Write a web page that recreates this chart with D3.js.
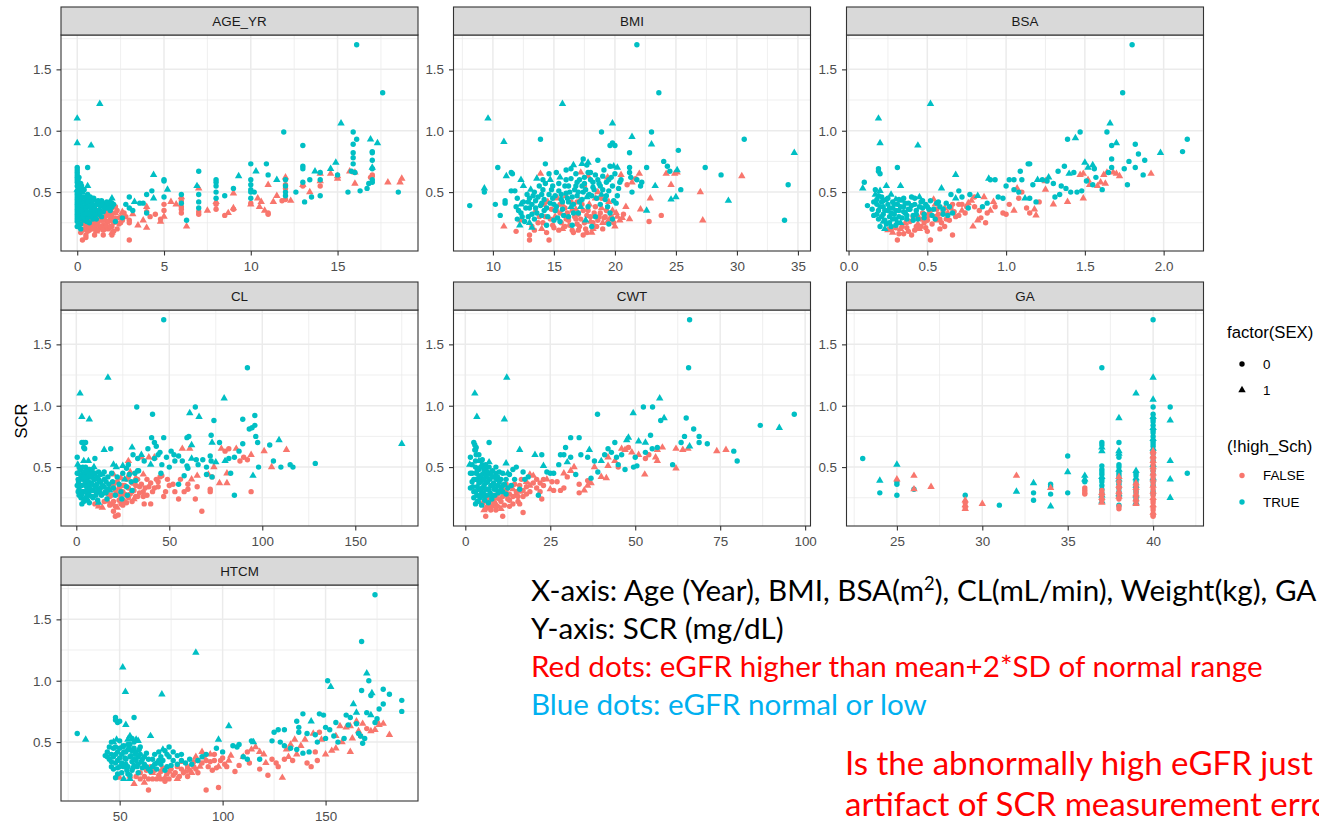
<!DOCTYPE html>
<html>
<head>
<meta charset="utf-8">
<script src="https://cdn.jsdelivr.net/npm/d3@7"></script>
<style>
  body { margin: 0; background: #ffffff; }
  svg { display: block; }
</style>
</head>
<body>
<svg id="chart" width="1319" height="825"></svg>
<script>
// Each point: [x value, SCR (mg/dL), SEX (0 = circle, 1 = triangle)]
// "True" arrays hold !high_Sch == TRUE (teal), "False" arrays hold FALSE (salmon).

const ageTrue = [[16.1,1.70,0],[17.6,1.31,0],[1.3,1.22,1],[0,1.10,1],[0,0.90,1],[0.8,0.88,1],[11.9,0.99,0],[15.2,1.06,1],[15.9,0.99,0],[16.1,0.93,0],[15.9,0.89,0],[15.9,0.82,0],[15.9,0.78,0],[15.9,0.73,0],[15.8,0.67,0],[16,0.66,0],[13,0.88,0],[16.9,0.93,1],[17.3,0.90,1],[17,0.83,0],[17,0.82,0],[17,0.76,0],[17,0.70,1],[17,0.69,0],[17,0.60,0],[17,0.58,0],[16.8,0.57,0],[16.7,0.53,0],[10.9,0.73,0],[10,0.73,0],[0.6,0.70,0],[7,0.67,0],[4.4,0.64,1],[9.3,0.63,1],[10.3,0.67,1],[11,0.64,0],[11.5,0.60,1],[12,0.60,0],[12,0.55,0],[12,0.50,0],[12,0.47,0],[13,0.71,0],[13,0.69,0],[13,0.58,0],[13.1,0.42,0],[13.4,0.60,0],[13.5,0.46,0],[12.6,0.50,0],[14,0.66,0],[14,0.60,0],[14,0.47,0],[13.7,0.67,1],[14.6,0.69,1],[14.9,0.74,1],[15,0.64,0],[15.6,0.50,0],[16.3,0.51,0],[18.5,0.50,0],[5,0.60,0],[5,0.59,0],[5.2,0.52,1],[5,0.46,0],[4.3,0.51,0],[4.4,0.45,1],[4,0.48,0],[4,0.33,0],[3.8,0.41,0],[6,0.48,0],[6,0.41,0],[6.3,0.27,0],[7,0.48,0],[7,0.42,0],[7,0.37,0],[6.9,0.55,1],[8,0.60,0],[8,0.58,0],[8,0.55,0],[8,0.50,0],[8,0.45,0],[8.5,0.47,0],[9,0.53,0],[10,0.60,0],[10,0.56,0],[10,0.52,0],[10,0.50,0],[10,0.45,0],[10.2,0.50,0],[3,0.46,0],[2.8,0.40,0],[3,0.37,0],[2.6,0.29,0],[2.2,0.26,0],[3.2,0.35,0],[3.3,0.42,1],[3.6,0.41,0],[2,0.45,1],[2.1,0.40,0],[0,0.70,0],[0,0.68,0],[0,0.66,0],[0,0.62,0],[0,0.58,0],[0.1,0.56,0],[0.2,0.57,0],[0.2,0.53,0],[0.1,0.50,0],[0,0.48,0],[0.1,0.45,0],[0,0.42,0],[0.2,0.40,0],[0,0.38,0],[0.1,0.35,0],[0,0.32,0],[0.2,0.30,0],[0.1,0.28,0],[0,0.26,0],[0.2,0.24,0],[0.3,0.50,1],[0.4,0.46,0],[0.3,0.42,0],[0.5,0.40,0],[0.4,0.36,1],[0.3,0.33,0],[0.5,0.30,0],[0.4,0.27,0],[0.6,0.55,1],[0.6,0.48,0],[0.7,0.44,0],[0.6,0.38,0],[0.7,0.34,0],[0.6,0.29,0],[0.8,0.42,1],[0.9,0.38,0],[0.8,0.33,0],[0.9,0.28,0],[1,0.43,1],[1,0.38,0],[1.1,0.35,0],[1,0.31,0],[1.2,0.40,0],[1.3,0.36,1],[1.2,0.32,0],[1.4,0.40,1],[1.5,0.38,0],[1.6,0.40,0],[1.7,0.37,0],[1.5,0.34,0],[1.8,0.40,1],[1.9,0.35,0],[2,0.38,0],[0,0.52,1],[0.1,0.62,0],[0.3,0.38,0],[0.5,0.34,0],[0.8,0.30,0],[1.4,0.30,0],[0.2,0.20,0],[0.7,0.25,0],[0,0.64,0],[0,0.60,0],[0,0.55,0],[0,0.50,0],[0,0.46,0],[0,0.44,0],[0,0.40,0],[0,0.36,0],[0,0.34,0],[0,0.30,0],[0,0.28,0],[0,0.22,0],[0.05,0.60,0],[0.1,0.41,0],[0.1,0.32,0],[0.15,0.47,0],[0.15,0.38,0],[0.2,0.45,0],[0.2,0.35,0],[0.25,0.28,0],[0.25,0.55,0],[0.3,0.46,0],[0.35,0.30,0],[0.4,0.52,0],[0.4,0.42,0],[0.45,0.32,0],[0.5,0.45,0],[0.5,0.37,0],[0.55,0.26,0],[0.6,0.42,0],[0.65,0.32,0],[0.7,0.38,0],[0.75,0.46,0],[0.8,0.36,0],[0.85,0.40,0],[0.9,0.33,1],[0.95,0.45,0],[1.0,0.35,0],[1.1,0.40,0],[1.1,0.28,0],[1.2,0.43,0],[1.3,0.39,0],[1.4,0.43,0],[1.5,0.41,1],[1.6,0.37,0],[1.7,0.42,0],[1.8,0.37,0],[1.9,0.42,0],[2.0,0.41,0],[1.3,0.33,0]];
const ageFalse = [[18.7,0.61,1],[18.6,0.58,1],[17.9,0.58,1],[17,0.64,0],[17,0.63,0],[16.9,0.62,0],[16,0.66,1],[16,0.57,1],[15.7,0.67,1],[14.6,0.65,1],[15,0.63,1],[15,0.61,1],[14,0.65,1],[14,0.59,1],[14,0.55,0],[13.4,0.50,1],[12,0.62,1],[12,0.56,0],[12,0.53,0],[12,0.44,0],[12.3,0.43,1],[11.8,0.43,0],[13,0.56,1],[13,0.55,0],[11,0.56,1],[11,0.33,0],[11,0.32,0],[10.8,0.35,1],[10.4,0.45,1],[10.6,0.42,1],[10.5,0.38,1],[11.5,0.47,1],[11.3,0.42,1],[10,0.40,1],[10,0.41,0],[9,0.49,1],[9,0.37,1],[9,0.36,0],[8.5,0.31,0],[8.7,0.33,1],[8,0.42,1],[8,0.40,0],[8,0.36,0],[7.5,0.35,1],[7,0.53,1],[7,0.34,0],[7,0.32,0],[6,0.46,1],[6,0.43,0],[6,0.38,0],[6,0.36,0],[6,0.33,0],[6.3,0.22,1],[5.7,0.40,1],[5.4,0.42,1],[5,0.40,0],[5,0.35,0],[5,0.30,1],[4.8,0.28,0],[4.5,0.32,0],[4.8,0.26,1],[4,0.38,1],[4,0.34,0],[4.2,0.30,0],[3.8,0.27,1],[3.5,0.23,1],[4,0.21,1],[3,0.27,0],[3,0.25,0],[3,0.11,0],[3.2,0.32,1],[2.8,0.30,0],[2.5,0.25,0],[2,0.37,0],[2,0.30,0],[2,0.22,0],[2,0.17,1],[2,0.15,0],[1.8,0.20,0],[0.3,0.11,0],[0.5,0.15,0],[0.2,0.17,0],[1,0.20,0],[1.5,0.23,0],[0.1,0.22,1],[0.4,0.20,0],[0.6,0.24,0],[0.8,0.22,0],[1.2,0.25,0],[1.4,0.27,0],[1.6,0.30,0],[1.7,0.26,0],[1.9,0.28,0],[1.1,0.18,1],[1.3,0.21,0],[0.9,0.26,0],[2.2,0.33,1],[2.4,0.29,0],[2.6,0.34,1],[1.6,0.20,0],[1.8,0.32,0],[1.2,0.28,0],[2.3,0.20,0],[1.0,0.24,0],[0.7,0.19,0],[0.2,0.25,0],[0.3,0.19,0],[0.4,0.24,1],[0.5,0.21,0],[0.6,0.18,0],[0.7,0.22,0],[0.8,0.27,0],[0.9,0.20,0],[1.0,0.28,0],[1.1,0.23,0],[1.2,0.19,0],[1.3,0.30,1],[1.4,0.22,0],[1.4,0.34,0],[1.5,0.27,0],[1.5,0.19,0],[1.6,0.34,0],[1.7,0.23,1],[1.7,0.31,0],[1.8,0.26,0],[1.9,0.22,0],[1.9,0.35,1],[2.0,0.27,0],[2.0,0.33,0],[2.1,0.25,0],[2.1,0.18,0],[2.2,0.29,0],[2.3,0.35,0],[2.4,0.24,0],[2.5,0.30,1],[2.6,0.27,0],[2.7,0.33,0],[0.5,0.13,0],[1.0,0.15,0],[1.5,0.15,0],[0.9,0.32,0],[1.2,0.35,0],[2.2,0.38,0]];

const bmiTrue = [[21.8,1.70,0],[23.6,1.31,0],[15.7,1.22,1],[9.6,1.10,1],[10.9,0.91,1],[13.9,0.93,0],[19.8,1.06,1],[18.9,0.99,0],[23,0.99,0],[21.4,0.95,1],[23,0.89,1],[19.8,0.90,0],[19.6,0.88,0],[20,0.88,0],[30.6,0.93,0],[25.2,0.84,0],[34.7,0.82,1],[21.2,0.82,0],[27.4,0.70,0],[28.7,0.64,0],[24,0.75,0],[24.3,0.71,0],[24.5,0.67,0],[22.6,0.70,0],[17.4,0.77,0],[17.8,0.74,1],[18.6,0.76,0],[17.7,0.72,0],[17.3,0.73,1],[14.3,0.73,0],[10.4,0.70,0],[11.5,0.66,0],[11.6,0.65,0],[11.1,0.63,1],[12.3,0.60,1],[16.6,0.72,1],[16.4,0.69,0],[19.6,0.71,0],[19.9,0.71,1],[20.2,0.70,1],[21.2,0.70,0],[21.2,0.66,0],[21.3,0.62,0],[25.4,0.52,0],[34.2,0.56,0],[29.3,0.43,1],[33.9,0.27,0],[8.1,0.39,0],[9.3,0.53,1],[9.3,0.50,0],[10.2,0.40,0],[10.6,0.31,0],[11,0.41,0],[11,0.43,0],[24.6,0.44,1],[25,0.46,1],[22.6,0.35,1],[21.4,0.50,0],[22.1,0.55,0],[22.2,0.58,0],[21.8,0.60,0],[23.3,0.55,1],[25.1,0.68,1],[11.5,0.51,0],[11.8,0.51,0],[12,0.45,0],[12.3,0.40,1],[12.1,0.35,0],[12.4,0.30,0],[12.6,0.26,0],[12.2,0.23,1],[12.8,0.48,0],[12.9,0.42,0],[13,0.37,0],[13.2,0.32,0],[13.1,0.52,1],[13.3,0.47,0],[13.5,0.43,0],[13.5,0.37,0],[13.4,0.28,0],[13.2,0.21,1],[13.8,0.55,0],[14,0.48,0],[14,0.41,0],[14.1,0.60,0],[14.2,0.35,0],[14.5,0.30,0],[14.4,0.23,0],[14.7,0.60,1],[14.8,0.52,0],[14.9,0.45,0],[15,0.40,0],[15.1,0.35,0],[15,0.27,0],[15.4,0.57,0],[15.5,0.62,1],[15.6,0.48,0],[15.7,0.42,0],[15.8,0.31,0],[15.5,0.26,0],[16,0.60,0],[16.2,0.55,0],[16.3,0.50,0],[16.1,0.45,0],[16.4,0.38,1],[16.2,0.30,0],[16.5,0.23,0],[16.8,0.65,0],[16.9,0.58,0],[16.7,0.52,0],[16.9,0.47,0],[17.1,0.42,0],[17,0.33,0],[17.3,0.55,0],[17.4,0.50,0],[17.5,0.62,0],[17.7,0.46,1],[17.8,0.38,0],[17.6,0.27,1],[18,0.66,0],[18.2,0.58,0],[18.3,0.52,0],[18.1,0.47,0],[18.4,0.30,0],[18.1,0.22,0],[18.6,0.60,0],[18.8,0.55,0],[18.9,0.48,1],[19,0.63,0],[19.3,0.58,0],[19.5,0.51,0],[19.2,0.44,0],[19.4,0.38,0],[19.6,0.33,0],[19.7,0.62,0],[19.9,0.43,0],[20.1,0.41,0],[20.3,0.53,0],[20.5,0.60,0],[19.8,0.28,0],[19.5,0.24,0],[14.6,0.65,0],[15.2,0.66,0],[13.6,0.61,1],[14.3,0.57,0],[11.9,0.38,0],[12.5,0.55,1],[16.0,0.68,0],[12.3,0.33,0],[12.5,0.42,0],[12.7,0.37,0],[12.9,0.30,0],[13.0,0.45,0],[13.2,0.40,0],[13.4,0.50,0],[13.6,0.33,0],[13.7,0.46,0],[13.9,0.39,0],[14.1,0.52,0],[14.2,0.44,0],[14.4,0.37,0],[14.6,0.48,0],[14.7,0.41,0],[14.9,0.55,0],[15.1,0.47,0],[15.2,0.38,0],[15.4,0.51,0],[15.6,0.44,0],[15.7,0.36,0],[15.9,0.55,0],[16.0,0.49,0],[16.2,0.42,0],[16.4,0.61,0],[16.5,0.46,0],[16.6,0.40,0],[16.8,0.55,0],[17.0,0.50,0],[17.1,0.60,0],[17.3,0.44,0],[17.5,0.57,0],[17.6,0.52,0],[17.8,0.66,0],[17.9,0.48,0],[18.0,0.60,0],[18.2,0.54,0],[18.4,0.64,0],[18.5,0.45,0],[18.7,0.57,0],[19.0,0.52,0],[19.1,0.68,0],[19.3,0.47,0],[19.5,0.60,0],[19.8,0.55,0],[20.0,0.65,0],[20.2,0.47,0],[20.4,0.58,0],[14.0,0.31,0],[15.3,0.29,0],[16.6,0.33,0],[12.0,0.28,0],[13.0,0.25,1],[17.2,0.38,1],[18.8,0.40,0]];
const bmiFalse = [[30.4,0.63,1],[27,0.50,1],[27.2,0.27,1],[22.8,0.26,0],[23.8,0.31,0],[24.2,0.65,1],[24.9,0.65,1],[25.1,0.66,1],[24.6,0.56,1],[22.9,0.45,1],[22.1,0.36,1],[20.5,0.64,1],[21.4,0.58,1],[21.7,0.61,0],[22,0.65,1],[21,0.56,0],[13.9,0.65,1],[17.2,0.66,1],[17.8,0.63,1],[10.9,0.22,1],[11.9,0.18,0],[13,0.15,0],[13,0.11,0],[14.6,0.11,0],[12.3,0.27,1],[13.5,0.35,1],[13.7,0.25,0],[14,0.20,1],[14.3,0.30,0],[14.5,0.42,1],[14.8,0.36,0],[14.9,0.23,0],[15.1,0.30,1],[15.3,0.45,1],[15.4,0.19,0],[15.6,0.25,0],[15.8,0.38,1],[15.9,0.22,0],[16.1,0.33,0],[16.2,0.27,0],[16.4,0.42,0],[16.5,0.19,0],[16.7,0.30,0],[16.8,0.36,1],[16.9,0.24,0],[17.1,0.43,1],[17.2,0.28,0],[17.4,0.15,0],[17.4,0.35,0],[17.6,0.20,0],[17.7,0.31,0],[17.9,0.40,1],[18,0.26,1],[18.1,0.17,1],[18.3,0.33,0],[18.4,0.45,1],[18.5,0.22,0],[18.7,0.30,0],[18.9,0.37,1],[19,0.25,1],[19.2,0.30,0],[19.5,0.42,1],[19.6,0.28,0],[19.8,0.35,1],[20,0.22,1],[20.2,0.30,1],[20.6,0.29,1],[20.9,0.38,1],[21.2,0.28,1],[16.0,0.47,1],[17.5,0.55,0],[18.6,0.50,1],[19.4,0.62,1],[14.2,0.40,0],[13.2,0.22,0],[15.5,0.33,0],[18.2,0.20,1],[17.0,0.19,0],[13.4,0.19,0],[13.8,0.30,0],[14.1,0.25,0],[14.4,0.17,0],[14.7,0.28,0],[15.0,0.21,0],[15.2,0.35,0],[15.5,0.40,0],[15.7,0.20,1],[16.0,0.28,0],[16.3,0.23,0],[16.5,0.35,0],[16.6,0.17,0],[16.8,0.28,0],[17.0,0.32,0],[17.1,0.22,0],[17.3,0.40,0],[17.5,0.25,0],[17.7,0.17,0],[17.8,0.35,0],[18.0,0.30,0],[18.2,0.25,0],[18.4,0.38,0],[18.6,0.27,0],[18.8,0.33,0],[19.0,0.20,0],[19.1,0.29,0],[19.3,0.35,0],[19.4,0.26,1],[19.7,0.30,0],[19.9,0.25,0],[20.1,0.33,1],[20.4,0.27,1],[20.7,0.32,0],[16.9,0.42,0],[18.9,0.45,0],[15.9,0.37,0]];

const bsaTrue = [[1.80,1.70,0],[1.74,1.31,0],[0.52,1.22,1],[0.19,1.10,1],[0.20,0.90,1],[0.44,0.88,1],[0.31,0.70,0],[0.19,0.69,0],[0.19,0.67,0],[0.20,0.65,0],[0.68,0.64,1],[0.33,0.55,1],[0.59,0.53,1],[0.10,0.58,0],[0.09,0.53,1],[0.12,0.39,0],[1.47,0.99,0],[1.39,0.93,0],[1.44,0.94,1],[1.64,0.99,0],[1.66,1.06,1],[1.67,0.88,0],[1.70,0.90,1],[1.82,0.89,0],[1.84,0.81,0],[1.88,0.76,0],[1.78,0.75,0],[1.67,0.77,0],[1.75,0.69,0],[1.82,0.70,0],[1.87,0.64,0],[1.77,0.56,0],[1.98,0.82,1],[2.12,0.83,0],[2.15,0.93,0],[1.37,0.71,0],[1.33,0.67,0],[1.43,0.66,0],[1.40,0.65,1],[1.50,0.74,1],[1.55,0.72,1],[1.52,0.70,1],[1.67,0.70,0],[1.65,0.66,0],[1.56,0.69,0],[1.57,0.62,0],[1.14,0.73,0],[1.15,0.73,0],[1.09,0.67,0],[1.05,0.60,0],[1.10,0.60,0],[1.02,0.60,0],[0.90,0.60,0],[0.93,0.60,0],[0.89,0.61,1],[1.17,0.56,0],[1.20,0.60,1],[1.23,0.60,0],[1.26,0.59,0],[1.30,0.57,0],[1.35,0.55,0],[1.38,0.53,0],[1.41,0.50,0],[1.45,0.50,0],[1.48,0.51,0],[1.34,0.48,0],[1.31,0.46,0],[1.08,0.50,0],[1.05,0.52,0],[1.00,0.55,0],[0.98,0.45,0],[0.95,0.46,0],[1.15,0.45,0],[1.19,0.42,0],[1.12,0.45,1],[0.88,0.41,0],[0.85,0.38,0],[0.82,0.47,1],[0.77,0.48,0],[0.72,0.46,0],[0.70,0.51,0],[0.65,0.48,0],[0.68,0.45,1],[0.76,0.37,0],[1.51,0.59,0],[1.55,0.56,0],[1.61,0.52,0],[1.27,0.62,1],[0.15,0.36,0],[0.16,0.31,0],[0.17,0.48,1],[0.18,0.44,0],[0.18,0.40,0],[0.19,0.35,0],[0.19,0.28,0],[0.20,0.22,0],[0.20,0.51,1],[0.21,0.46,0],[0.21,0.42,0],[0.22,0.38,0],[0.22,0.32,0],[0.23,0.27,0],[0.23,0.20,1],[0.24,0.55,1],[0.24,0.44,0],[0.25,0.40,0],[0.25,0.35,0],[0.26,0.30,0],[0.26,0.25,0],[0.27,0.48,1],[0.28,0.42,0],[0.28,0.37,0],[0.29,0.32,0],[0.30,0.28,0],[0.30,0.44,1],[0.31,0.40,0],[0.32,0.35,0],[0.32,0.30,0],[0.33,0.25,1],[0.34,0.43,1],[0.35,0.38,0],[0.36,0.33,0],[0.37,0.28,0],[0.38,0.41,0],[0.39,0.36,0],[0.40,0.46,0],[0.41,0.31,0],[0.42,0.40,0],[0.43,0.35,0],[0.44,0.28,0],[0.45,0.46,1],[0.46,0.42,0],[0.47,0.37,0],[0.48,0.32,0],[0.49,0.40,0],[0.51,0.36,0],[0.53,0.31,0],[0.55,0.28,0],[0.56,0.41,0],[0.58,0.38,0],[0.60,0.32,0],[0.62,0.41,0],[0.63,0.31,0],[0.66,0.33,0],[0.17,0.52,0],[0.35,0.45,0],[0.27,0.22,0],[0.16,0.42,0],[0.18,0.32,0],[0.19,0.47,0],[0.2,0.38,0],[0.21,0.30,0],[0.22,0.43,0],[0.23,0.35,0],[0.24,0.24,0],[0.25,0.45,0],[0.26,0.37,0],[0.27,0.33,0],[0.28,0.28,0],[0.29,0.40,0],[0.3,0.35,0],[0.31,0.25,0],[0.32,0.44,0],[0.33,0.38,0],[0.34,0.29,0],[0.35,0.34,0],[0.36,0.41,0],[0.37,0.31,0],[0.38,0.36,0],[0.4,0.39,0],[0.41,0.27,0],[0.42,0.45,0],[0.43,0.32,0],[0.45,0.38,0],[0.47,0.43,0],[0.48,0.29,0],[0.5,0.38,0],[0.52,0.43,0],[0.54,0.36,0],[0.57,0.42,0],[0.6,0.36,0],[0.64,0.38,0],[0.22,0.26,1],[0.3,0.23,0]];
const bsaFalse = [[1.92,0.65,1],[1.70,0.65,1],[1.68,0.66,1],[1.64,0.66,1],[1.72,0.63,1],[1.62,0.64,1],[1.60,0.58,1],[1.63,0.57,1],[1.58,0.55,1],[1.49,0.65,1],[1.47,0.64,1],[1.52,0.60,1],[1.53,0.56,1],[1.49,0.45,1],[1.39,0.42,1],[1.30,0.40,1],[1.25,0.59,1],[1.25,0.52,1],[1.21,0.42,0],[1.18,0.36,1],[1.13,0.37,0],[1.15,0.33,0],[1.19,0.31,1],[1.07,0.53,1],[1.10,0.50,0],[1.08,0.45,0],[1.02,0.40,0],[0.98,0.33,0],[1.00,0.32,0],[1.05,0.35,1],[0.93,0.38,0],[0.90,0.35,1],[0.88,0.33,0],[0.86,0.46,1],[0.92,0.42,1],[0.80,0.46,0],[0.78,0.43,1],[0.75,0.38,0],[0.72,0.35,1],[0.70,0.40,0],[0.68,0.30,0],[0.65,0.37,0],[0.82,0.27,1],[0.84,0.29,0],[0.79,0.22,1],[0.87,0.25,0],[0.66,0.15,0],[0.52,0.11,0],[0.31,0.11,0],[0.28,0.17,1],[0.33,0.20,1],[0.40,0.15,0],[0.45,0.20,1],[0.48,0.25,0],[0.50,0.30,0],[0.52,0.35,0],[0.55,0.40,1],[0.54,0.44,1],[0.57,0.32,0],[0.59,0.25,0],[0.61,0.37,1],[0.62,0.28,0],[0.46,0.28,0],[0.43,0.22,0],[0.38,0.18,0],[0.36,0.25,1],[0.41,0.30,0],[0.58,0.20,0],[0.30,0.21,0],[0.25,0.19,1],[0.35,0.16,0],[0.44,0.24,1],[0.50,0.18,0],[0.56,0.27,1],[0.27,0.20,0],[0.32,0.16,0],[0.34,0.22,0],[0.37,0.21,0],[0.39,0.26,0],[0.42,0.19,0],[0.44,0.30,0],[0.46,0.22,0],[0.47,0.33,0],[0.49,0.21,0],[0.5,0.27,0],[0.51,0.33,1],[0.53,0.24,0],[0.55,0.30,0],[0.56,0.36,0],[0.58,0.28,0],[0.6,0.34,0],[0.61,0.22,0],[0.63,0.33,1],[0.64,0.27,0],[0.66,0.40,0],[0.67,0.34,0],[0.7,0.31,0],[0.72,0.40,0],[0.74,0.33,0],[0.76,0.41,1],[0.8,0.38,0],[0.83,0.35,0]];

const clTrue = [[47,1.70,0],[92,1.31,0],[17,1.23,1],[2,1.10,1],[3,0.91,1],[7,0.89,1],[32.5,0.99,0],[41,0.93,0],[79.5,1.06,1],[64,0.99,0],[61,0.94,1],[66,0.91,1],[74,0.88,0],[89.5,0.89,0],[96,0.92,0],[93,0.81,0],[96,0.84,0],[94.5,0.82,0],[96.5,0.75,0],[97.5,0.70,0],[89.5,0.69,0],[104,0.68,0],[109,0.72,1],[77,0.70,0],[72.5,0.76,0],[60.5,0.75,0],[59.5,0.74,0],[62,0.68,1],[73,0.70,1],[128.5,0.53,0],[175,0.69,1],[106,0.55,0],[110,0.50,0],[115,0.52,0],[116.5,0.50,0],[98,0.50,0],[95,0.43,1],[85,0.27,0],[83,0.45,0],[82,0.57,0],[85,0.58,0],[87.5,0.63,0],[80,0.55,1],[40.5,0.74,0],[42,0.70,0],[43,0.67,0],[47,0.74,0],[45,0.62,0],[51,0.63,0],[52.5,0.60,0],[48.5,0.58,0],[53,0.55,0],[55,0.59,0],[57,0.55,0],[59.5,0.51,0],[60,0.49,0],[62,0.57,1],[64.5,0.56,0],[65.5,0.52,0],[68,0.56,0],[70,0.50,0],[72,0.59,0],[72.5,0.55,0],[75,0.54,1],[70,0.44,0],[73,0.42,0],[58,0.43,0],[55,0.36,0],[50,0.50,0],[46,0.52,0],[42,0.57,0],[44,0.60,0],[38.5,0.65,0],[35,0.60,1],[33,0.57,0],[36.5,0.55,0],[30,0.66,1],[30.5,0.60,0],[28,0.52,0],[27,0.49,0],[25,0.51,1],[20,0.52,1],[18.5,0.65,0],[15,0.64,1],[10,0.57,0],[33,0.47,0],[40,0.52,1],[45.5,0.45,0],[0.5,0.58,0],[0.8,0.52,1],[1,0.45,0],[1.2,0.38,0],[1.5,0.32,0],[2,0.48,0],[2.5,0.42,0],[3,0.35,0],[3.5,0.30,0],[3,0.70,0],[4,0.70,0],[5,0.70,0],[4,0.66,0],[4.5,0.65,0],[4,0.55,1],[5,0.50,0],[5,0.45,0],[5.5,0.40,0],[6,0.33,0],[6,0.27,0],[6.5,0.55,1],[7,0.48,0],[7.5,0.42,0],[8,0.37,0],[8,0.31,0],[8.5,0.26,0],[3,0.20,0],[9,0.44,0],[9.5,0.50,1],[10,0.40,0],[10.5,0.34,0],[11,0.29,0],[11.5,0.23,0],[12,0.46,0],[12.5,0.38,0],[13,0.33,0],[13.5,0.27,0],[14,0.44,1],[15,0.40,0],[15,0.34,0],[16,0.29,0],[16.5,0.24,0],[17,0.42,0],[17.5,0.36,0],[18,0.31,1],[19,0.45,0],[19.5,0.38,0],[20,0.33,0],[21,0.27,0],[21.5,0.50,1],[22,0.42,0],[23,0.36,0],[24,0.30,0],[24.5,0.24,0],[25,0.45,0],[26,0.40,1],[27,0.34,0],[27.5,0.27,0],[28.5,0.44,0],[29.5,0.38,0],[30,0.31,0],[31.5,0.45,0],[32,0.39,0],[33.5,0.47,0],[7,0.21,0],[5,0.25,0],[12,0.21,1],[2,0.40,0],[1,0.30,0],[0.5,0.45,0],[0.5,0.35,0],[1,0.40,0],[1.5,0.50,0],[1.5,0.27,0],[2,0.35,0],[2,0.30,0],[2.5,0.48,0],[2.5,0.25,0],[3,0.44,0],[3,0.28,0],[3.5,0.40,0],[3.5,0.50,0],[4,0.42,0],[4,0.30,0],[4,0.22,0],[4.5,0.36,0],[4.5,0.46,0],[5,0.38,0],[5,0.30,0],[5.5,0.47,0],[5.5,0.34,0],[6,0.42,0],[6,0.23,0],[6.5,0.38,0],[6.5,0.30,0],[7,0.35,0],[7,0.27,0],[7.5,0.45,0],[7.5,0.32,0],[8,0.42,0],[8.5,0.36,0],[8.5,0.48,0],[9,0.31,0],[9,0.25,0],[9.5,0.40,0],[10,0.45,0],[10,0.34,0],[10.5,0.27,0],[11,0.42,0],[11,0.36,0],[11.5,0.31,0],[12,0.40,0],[12.5,0.30,0],[13,0.44,0],[13,0.38,0],[14,0.35,0],[14,0.28,0],[15,0.46,0],[15.5,0.30,0],[16,0.38,0],[17,0.32,0]];
const clFalse = [[67.5,0.14,0],[94,0.30,0],[113,0.64,1],[101,0.63,1],[105,0.50,1],[94,0.60,1],[90,0.58,0],[88,0.55,0],[92,0.56,0],[86,0.65,1],[82,0.65,0],[80,0.63,0],[78,0.65,1],[81,0.45,1],[77,0.37,1],[81,0.37,1],[74,0.50,1],[73,0.42,0],[71,0.44,1],[72,0.32,0],[72,0.30,0],[65,0.43,1],[65,0.34,0],[64,0.24,0],[60,0.36,0],[60,0.32,0],[58,0.30,0],[56,0.40,0],[55,0.24,0],[57,0.65,1],[61,0.65,1],[62,0.40,1],[47,0.26,0],[48,0.30,0],[50,0.35,0],[52,0.36,0],[46,0.43,0],[45,0.42,0],[44,0.38,0],[42,0.33,0],[40,0.20,0],[38,0.27,0],[36,0.30,0],[34,0.34,0],[32,0.41,1],[35,0.58,1],[39,0.58,1],[42,0.58,1],[36,0.44,1],[30,0.30,0],[28,0.25,0],[26,0.22,1],[24,0.20,0],[22,0.17,1],[21,0.10,0],[22.5,0.11,0],[20,0.14,0],[19,0.20,0],[17,0.22,1],[14,0.17,1],[15,0.22,0],[12,0.18,1],[10,0.20,0],[25,0.35,0],[27,0.40,0],[28,0.55,1],[29,0.46,1],[31,0.37,0],[33,0.26,0],[36.5,0.20,0],[39,0.34,0],[24,0.30,1],[18,0.26,0],[26,0.28,0],[53,0.30,0],[49,0.40,0],[17,0.28,0],[18,0.19,0],[18.5,0.33,0],[19,0.27,0],[20,0.36,0],[20,0.22,0],[21,0.31,0],[21,0.18,0],[22,0.28,0],[22,0.38,0],[23,0.23,0],[23,0.33,0],[24,0.26,0],[25,0.30,0],[25,0.19,0],[26,0.35,0],[27,0.27,0],[27,0.21,0],[28,0.33,0],[28,0.42,0],[29,0.28,0],[30,0.37,0],[30,0.22,0],[31,0.31,0],[32,0.26,0],[32,0.35,0],[33,0.40,0],[34,0.29,0],[35,0.36,0],[36,0.26,0],[37,0.33,0],[38,0.40,0],[40,0.37,0],[41,0.30,0],[43,0.40,0],[44,0.34,0],[20,0.44,1],[24,0.41,1],[31,0.24,1]];

const cwtTrue = [[66,1.70,0],[65.7,1.31,0],[12.2,1.23,1],[2.8,1.10,1],[3.4,0.91,1],[11.5,0.89,1],[38.9,0.93,0],[57.2,1.06,1],[52.4,0.99,0],[55.1,0.99,0],[49.4,0.94,1],[57.5,0.88,0],[58.5,0.90,1],[65,0.90,0],[67.2,0.81,0],[64.5,0.75,0],[63.5,0.70,0],[68.8,0.75,0],[68.8,0.70,0],[71.2,0.69,0],[79,0.63,0],[80,0.55,0],[86.8,0.84,0],[92.4,0.82,1],[96.8,0.93,0],[66,0.67,1],[61,0.52,0],[54.5,0.76,0],[48,0.74,1],[47.5,0.72,1],[51,0.71,1],[53,0.70,1],[56.5,0.66,0],[55,0.65,0],[53,0.62,0],[50,0.58,0],[49.5,0.50,0],[50.5,0.51,0],[47,0.48,0],[45,0.52,0],[44.5,0.58,0],[46,0.60,0],[44,0.70,0],[42,0.65,0],[43,0.62,0],[41,0.60,0],[40,0.55,1],[39,0.46,0],[38,0.55,0],[37,0.41,0],[36.5,0.64,1],[36,0.58,0],[34,0.60,0],[33.5,0.74,0],[31,0.74,0],[31,0.58,0],[32.5,0.44,0],[30,0.54,1],[29.5,0.66,0],[29,0.60,0],[28,0.60,0],[27.5,0.52,0],[26,0.45,0],[25,0.45,0],[24,0.46,0],[22.5,0.60,0],[23,0.51,1],[20.5,0.60,1],[21.5,0.27,0],[16,0.64,1],[15,0.50,0],[14,0.48,0],[13,0.44,0],[12,0.53,1],[17,0.46,0],[18.5,0.42,0],[12.5,0.45,1],[1.3,0.52,1],[1.5,0.58,0],[2,0.38,0],[2.5,0.70,0],[2.8,0.68,0],[3,0.64,0],[3.2,0.60,0],[2.5,0.30,0],[3,0.50,0],[3.2,0.45,0],[3,0.40,0],[3.5,0.34,0],[3.4,0.27,0],[3,0.20,0],[4,0.55,1],[4,0.48,0],[4.2,0.42,0],[4,0.37,0],[4.5,0.31,0],[4.3,0.25,0],[4.8,0.19,0],[5,0.52,0],[5.2,0.45,1],[5,0.40,0],[5.5,0.35,0],[5.3,0.29,0],[5.7,0.23,0],[6,0.48,0],[6.2,0.42,0],[6,0.37,0],[6.5,0.32,0],[6.3,0.27,0],[7,0.70,0],[7,0.54,1],[7,0.45,0],[7.2,0.40,0],[7.5,0.35,0],[7.3,0.29,0],[7.8,0.24,0],[8,0.42,0],[8.3,0.37,0],[8.5,0.32,0],[8.7,0.27,0],[9,0.45,0],[9.2,0.40,0],[9.5,0.35,0],[9.7,0.29,0],[10,0.38,0],[10.5,0.33,0],[11,0.30,0],[11.5,0.36,0],[12,0.28,0],[13.5,0.35,0],[14.5,0.40,0],[16,0.32,0],[17.5,0.40,0],[3.8,0.22,0],[6.8,0.21,0],[2,0.45,0],[1.5,0.33,0],[1.5,0.45,0],[2,0.52,0],[2.2,0.34,0],[2.5,0.40,0],[2.5,0.25,0],[3,0.55,0],[3,0.30,0],[3.5,0.47,0],[3.5,0.40,0],[3.5,0.22,0],[4,0.60,0],[4,0.43,0],[4,0.32,0],[4.5,0.50,0],[4.5,0.38,0],[4.5,0.27,0],[5,0.56,0],[5,0.44,0],[5,0.33,0],[5.5,0.48,0],[5.5,0.40,0],[5.5,0.26,0],[6,0.52,0],[6,0.44,0],[6,0.32,0],[6.5,0.46,0],[6.5,0.38,0],[7,0.50,0],[7,0.32,0],[7.5,0.44,0],[7.5,0.27,0],[8,0.47,0],[8,0.35,0],[8.5,0.42,0],[9,0.50,0],[9,0.32,0],[9.5,0.42,0],[10,0.46,0],[10,0.30,0],[10.5,0.40,0],[11,0.45,0],[11,0.35,0],[12,0.40,0],[12.5,0.33,0],[3.2,0.66,0],[2.8,0.64,0]];
const cwtFalse = [[74,0.63,1],[76.7,0.64,1],[62,0.49,1],[52.8,0.44,1],[62,0.65,1],[64,0.64,1],[65.5,0.65,1],[58,0.66,1],[56.5,0.64,1],[56,0.58,1],[56.5,0.55,1],[54,0.60,0],[53,0.57,0],[51,0.60,1],[49,0.62,1],[48,0.66,0],[47,0.64,1],[46,0.65,1],[44,0.55,1],[45,0.50,0],[42,0.58,1],[42,0.51,1],[40,0.42,1],[41.5,0.41,1],[38,0.50,1],[37,0.37,1],[36,0.35,1],[35,0.31,1],[33.5,0.36,0],[33.5,0.29,0],[31,0.47,1],[32,0.50,1],[30,0.42,0],[29,0.45,1],[29,0.33,0],[28,0.31,0],[27,0.38,0],[26,0.31,0],[25,0.32,1],[24,0.40,1],[23,0.35,0],[22.5,0.24,0],[22,0.37,0],[20,0.43,1],[19,0.44,1],[18,0.38,1],[17,0.13,0],[16,0.30,1],[15,0.27,0],[14,0.32,1],[13,0.23,0],[12,0.36,0],[11,0.10,0],[10.5,0.16,1],[9,0.20,1],[8,0.23,0],[7,0.17,0],[6,0.10,0],[5.5,0.15,1],[6.5,0.18,0],[10,0.24,0],[12,0.27,1],[14,0.20,0],[17,0.26,0],[19,0.35,1],[21,0.40,0],[25.5,0.38,0],[36,0.39,0],[15.5,0.22,0],[8,0.18,1],[9.5,0.28,0],[11,0.32,0],[5,0.20,0],[5.5,0.22,0],[6,0.16,0],[6.5,0.24,0],[7,0.20,0],[7.5,0.15,0],[8,0.27,0],[8.5,0.21,0],[9,0.25,0],[9.5,0.18,0],[10,0.30,0],[10.5,0.22,0],[11,0.26,0],[11.5,0.19,0],[12,0.31,0],[12.5,0.24,0],[13,0.28,0],[13.5,0.34,0],[14,0.26,0],[14.5,0.36,0],[15,0.30,0],[15.5,0.26,0],[16,0.35,0],[16.5,0.40,0],[17,0.31,0],[18,0.28,0],[18,0.34,0],[19,0.30,0],[20,0.37,0],[21,0.33,0],[22,0.30,0],[23,0.40,0],[9,0.15,0],[13,0.18,0],[16,0.20,0]];

const gaTrue = [[23,0.57,0],[24,0.39,1],[24,0.29,0],[25,0.52,1],[25,0.38,0],[25,0.36,0],[25,0.27,0],[26,0.32,0],[29,0.27,0],[31,0.19,0],[32,0.30,1],[33,0.37,1],[33,0.29,0],[33,0.23,0],[34,0.36,0],[34,0.34,0],[34,0.28,0],[34,0.18,1],[35,0.59,0],[35,0.46,1],[35,0.29,0],[36,0.43,1],[36,0.40,1],[36,0.38,0],[37,1.31,0],[37,0.70,0],[37,0.68,0],[37,0.66,1],[37,0.63,1],[37,0.51,0],[37,0.48,0],[37,0.46,0],[37,0.44,0],[37,0.42,1],[37,0.40,0],[37,0.38,0],[37,0.35,0],[37,0.32,0],[37,0.29,0],[37,0.27,1],[37,0.24,0],[37,0.22,1],[38,0.90,1],[38,0.70,0],[38,0.63,1],[38,0.61,1],[38,0.58,0],[38,0.52,0],[38,0.50,0],[38,0.48,1],[38,0.46,0],[38,0.44,0],[38,0.42,0],[38,0.40,1],[38,0.38,0],[38,0.36,0],[38,0.33,0],[38,0.30,0],[38,0.28,1],[38,0.26,0],[38,0.19,0],[39,1.10,1],[39,0.47,1],[39,0.45,0],[39,0.43,0],[39,0.41,1],[39,0.39,0],[39,0.37,0],[39,0.35,1],[39,0.33,0],[39,0.31,0],[39,0.29,0],[39,0.27,1],[39,0.25,0],[39,0.23,0],[39,0.21,1],[40,1.70,0],[40,1.23,1],[40,1.05,1],[40,0.99,0],[40,0.93,0],[40,0.91,1],[40,0.89,0],[40,0.87,0],[40,0.84,0],[40,0.82,1],[40,0.80,0],[40,0.78,0],[40,0.75,0],[40,0.73,1],[40,0.71,0],[40,0.69,0],[40,0.67,0],[40,0.65,1],[40,0.63,0],[40,0.61,0],[40,0.58,0],[40,0.55,0],[40,0.52,1],[40,0.50,0],[40,0.47,0],[40,0.44,0],[40,0.41,1],[40,0.38,0],[40,0.35,0],[40,0.30,0],[40,0.28,0],[41,0.99,0],[41,0.88,1],[41,0.55,1],[41,0.40,1],[41,0.25,1],[42,0.45,0]];
const gaFalse = [[25,0.40,1],[26,0.43,1],[26,0.32,1],[27,0.34,1],[29,0.23,1],[29,0.21,0],[29,0.19,1],[29,0.17,0],[29,0.16,1],[30,0.20,1],[32,0.43,1],[34,0.33,1],[36,0.33,0],[36,0.31,0],[36,0.29,0],[36,0.28,0],[37,0.31,0],[37,0.29,1],[37,0.27,0],[37,0.25,1],[37,0.23,0],[37,0.21,1],[38,0.42,1],[38,0.38,0],[38,0.35,1],[38,0.33,0],[38,0.30,1],[38,0.28,0],[38,0.26,1],[38,0.24,0],[38,0.18,0],[38,0.16,0],[39,0.37,1],[39,0.35,0],[39,0.33,1],[39,0.30,0],[39,0.28,1],[39,0.26,0],[39,0.24,1],[39,0.22,0],[39,0.20,1],[40,0.63,1],[40,0.61,0],[40,0.59,1],[40,0.57,0],[40,0.55,1],[40,0.52,0],[40,0.50,1],[40,0.47,0],[40,0.45,1],[40,0.42,0],[40,0.40,1],[40,0.37,0],[40,0.35,1],[40,0.32,0],[40,0.30,1],[40,0.27,0],[40,0.25,1],[40,0.23,0],[40,0.21,0],[40,0.19,1],[40,0.17,0],[40,0.15,0],[40,0.13,1],[40,0.11,0],[40,0.10,0]];

const htcmTrue = [[174,1.70,0],[167.5,1.32,0],[87,1.23,1],[51.5,1.11,1],[52.8,0.91,1],[70.5,0.89,1],[29.4,0.57,0],[33.5,0.52,1],[151,1.00,0],[152.5,0.95,1],[170,1.06,1],[171,1.00,0],[167.5,0.92,0],[172.5,0.90,1],[172,0.88,0],[178,0.93,0],[181,0.89,0],[178,0.81,0],[176,0.77,0],[187,0.84,0],[187,0.75,0],[163.5,0.81,1],[139,0.73,0],[147,0.73,0],[149,0.72,0],[143,0.67,1],[155,0.66,0],[150,0.62,0],[152,0.60,0],[154,0.55,0],[156,0.50,0],[150,0.53,0],[145,0.56,0],[141,0.57,0],[137,0.62,0],[136,0.67,0],[137,0.58,0],[130,0.60,0],[127,0.60,0],[125,0.58,0],[124,0.51,0],[128,0.50,0],[130,0.47,0],[133,0.45,0],[136,0.44,0],[139,0.41,0],[142,0.42,0],[146,0.50,0],[159,0.53,0],[160,0.72,0],[162,0.70,0],[165,0.65,0],[166,0.57,0],[167,0.55,0],[168,0.49,0],[169,0.53,0],[170,0.74,0],[165,0.74,1],[172,0.72,1],[175,0.69,0],[174,0.66,0],[161,0.64,0],[103,0.63,1],[98,0.52,1],[97,0.45,0],[100,0.42,0],[105,0.47,0],[107,0.46,0],[108,0.48,0],[110,0.38,0],[112,0.36,0],[114,0.51,0],[115,0.50,1],[118,0.36,0],[92,0.40,0],[90,0.38,0],[88,0.35,0],[85,0.32,0],[80,0.40,0],[78,0.39,0],[76,0.35,0],[74,0.46,0],[72,0.43,0],[73,0.40,0],[71,0.44,1],[70,0.38,0],[69,0.35,0],[67,0.32,0],[65,0.55,1],[65,0.26,0],[63,0.30,0],[62,0.38,0],[60,0.40,0],[48,0.70,0],[48,0.68,0],[49,0.66,0],[50,0.67,0],[57,0.70,0],[53,0.64,1],[55,0.55,1],[56,0.53,0],[58,0.52,1],[47,0.50,1],[48.5,0.52,1],[46,0.50,0],[43,0.39,0],[44,0.38,0],[45,0.36,0],[46,0.30,0],[48,0.21,0],[52,0.20,1],[55,0.23,0],[47,0.45,0],[48,0.40,0],[49,0.35,0],[50,0.30,0],[51,0.46,1],[52,0.42,0],[52.5,0.37,0],[53,0.32,0],[53.5,0.27,0],[54,0.48,0],[55,0.44,0],[55.5,0.39,0],[56,0.34,0],[56.5,0.29,0],[57,0.45,0],[57.5,0.40,0],[58,0.35,0],[58.5,0.30,0],[59,0.25,0],[59.5,0.44,0],[60.5,0.34,0],[61,0.29,0],[50,0.51,0],[54,0.52,1],[57,0.50,0],[59,0.51,1],[64,0.36,0],[66,0.30,0],[68,0.28,0],[70,0.32,0],[72,0.27,0],[75,0.31,0],[82,0.33,0],[84,0.36,0],[44,0.42,0],[45,0.46,0],[46,0.40,0],[46,0.34,0],[47,0.38,0],[47,0.28,0],[48,0.46,0],[48,0.33,0],[49,0.42,0],[49,0.29,0],[50,0.45,0],[50,0.37,0],[51,0.40,0],[51,0.33,0],[51,0.25,0],[52,0.47,0],[52,0.30,0],[53,0.42,0],[53,0.36,0],[54,0.44,0],[54,0.30,0],[54,0.24,0],[55,0.38,0],[55,0.48,0],[56,0.43,0],[56,0.27,0],[57,0.36,0],[57,0.31,0],[58,0.42,0],[59,0.38,0],[59,0.32,0],[60,0.46,0],[61,0.36,0],[62,0.32,0],[63,0.41,0],[64,0.28,0],[66,0.36,0],[67,0.40,0],[68,0.33,0],[69,0.42,0],[71,0.35,0],[73,0.30,0],[74,0.38,0],[76,0.42,0],[78,0.32,0],[80,0.35,0],[55,0.20,1],[49,0.24,0]];
const htcmFalse = [[181,0.56,1],[178,0.65,1],[176,0.64,1],[174,0.60,1],[172,0.59,1],[168,0.65,1],[165,0.67,1],[162,0.63,1],[160,0.62,1],[157,0.63,1],[163,0.53,1],[166,0.59,1],[167,0.55,0],[162,0.42,1],[155,0.45,1],[153,0.43,1],[150,0.40,1],[148,0.52,1],[147,0.58,0],[144,0.57,1],[145,0.42,0],[146,0.35,0],[143,0.30,0],[141,0.33,0],[138,0.47,1],[135,0.52,1],[133,0.48,1],[136,0.40,1],[134,0.35,0],[132,0.38,1],[130,0.36,0],[131,0.44,1],[129,0.21,1],[126,0.33,0],[124,0.36,0],[122,0.23,0],[120,0.40,1],[118,0.42,1],[116,0.46,1],[114,0.44,1],[112,0.42,0],[110,0.38,1],[108,0.31,0],[106,0.26,0],[103,0.35,1],[100,0.37,0],[98,0.30,1],[98,0.13,0],[96,0.35,0],[94,0.40,1],[92,0.35,0],[92,0.11,0],[90,0.42,1],[88,0.35,0],[86,0.30,0],[85,0.25,1],[83,0.22,0],[80,0.28,0],[78,0.20,1],[76,0.23,0],[74,0.26,1],[72,0.18,0],[72,0.21,1],[68,0.20,0],[66,0.25,1],[64,0.11,0],[62,0.17,1],[60,0.20,0],[57,0.16,1],[55,0.22,1],[50,0.21,1],[65,0.30,0],[70,0.26,0],[82,0.26,1],[89,0.30,1],[95,0.27,0],[102,0.30,0],[104,0.39,1],[113,0.33,0],[118,0.28,0],[121,0.33,1],[127,0.30,0],[140,0.52,1],[155,0.55,1],[158,0.50,1],[170,0.61,0],[175,0.66,0],[58,0.22,0],[60,0.25,0],[62,0.22,0],[63,0.27,0],[64,0.20,0],[66,0.20,0],[67,0.27,0],[69,0.23,0],[70,0.20,0],[71,0.29,0],[73,0.24,0],[74,0.20,0],[75,0.28,0],[77,0.25,0],[78,0.30,0],[79,0.22,0],[81,0.25,0],[83,0.30,0],[84,0.27,0],[86,0.34,0],[87,0.28,0],[88,0.25,0],[90,0.33,0],[91,0.38,0],[93,0.30,0],[94,0.34,0],[96,0.40,0],[97,0.29,0],[99,0.35,0],[101,0.32,0],[87,0.38,1],[80,0.34,1]];

// Facet names and axis break labels
const facetNames = ["AGE_YR", "BMI", "BSA", "CL", "CWT", "GA", "HTCM"];
const xBreaks = [[0,5,10,15],[10,15,20,25,30,35],[0,0.5,1,1.5,2],[0,50,100,150],[0,25,50,75,100],[25,30,35,40],[50,100,150]];
const yBreaks = [0.5, 1.0, 1.5];
const sexLevels = ["0", "1"];
const schLevels = ["FALSE", "TRUE"];

const notesBlack = ["X-axis: Age (Year), BMI, BSA(m", "2", "), CL(mL/min), Weight(kg), GA"];
const noteY = "Y-axis: SCR (mg/dL)";
const noteRed = "Red dots: eGFR higher than mean+2*SD of normal range";
const noteBlue = "Blue dots: eGFR normal or low";
const question = ["Is the abnormally high eGFR just", "artifact of SCR measurement error"];

const panels = [
  { name: facetNames[0], t: ageTrue,  f: ageFalse,  breaks: xBreaks[0], fmt: d3.format("d") },
  { name: facetNames[1], t: bmiTrue,  f: bmiFalse,  breaks: xBreaks[1], fmt: d3.format("d") },
  { name: facetNames[2], t: bsaTrue,  f: bsaFalse,  breaks: xBreaks[2], fmt: d3.format(".1f") },
  { name: facetNames[3], t: clTrue,   f: clFalse,   breaks: xBreaks[3], fmt: d3.format("d") },
  { name: facetNames[4], t: cwtTrue,  f: cwtFalse,  breaks: xBreaks[4], fmt: d3.format("d") },
  { name: facetNames[5], t: gaTrue,   f: gaFalse,   breaks: xBreaks[5], fmt: d3.format("d"), falseOnTop: true },
  { name: facetNames[6], t: htcmTrue, f: htcmFalse, breaks: xBreaks[6], fmt: d3.format("d") }
];

// ---------- layout ----------
const svg = d3.select("#chart");
const TEAL = "#00BFC4", SALMON = "#F8766D";
const GRID = "#EBEBEB", BORDER = "#333333", AXIS_TXT = "#4D4D4D";
const FONT = "'Liberation Sans', Arial, sans-serif";
const colLeft = [61, 453.5, 846.5];
const rowTop = [7, 282, 557];
const panelW = 357, stripH = 28, plotH = 216;

const allY = panels.flatMap(p => p.t.concat(p.f).map(d => d[1]));
const [yMin, yMax] = d3.extent(allY);
const yPad = (yMax - yMin) * 0.05;
const yDomain = [yMin - yPad, yMax + yPad];

const triPath = d3.symbol().type(d3.symbolTriangle).size(24)();

function minorBreaks(br, dom) {
  const step = br[1] - br[0];
  const out = [];
  for (let v = br[0] - step / 2; v <= br[br.length - 1] + step; v += step) {
    if (v >= dom[0] && v <= dom[1]) out.push(v);
  }
  return out;
}

function drawPoints(g, data, color, x, y) {
  data.forEach(d => {
    if (d[2] === 0) {
      g.append("circle").attr("cx", x(d[0])).attr("cy", y(d[1])).attr("r", 2.7).attr("fill", color);
    } else {
      g.append("path").attr("d", triPath)
        .attr("transform", `translate(${x(d[0])},${y(d[1])})`).attr("fill", color);
    }
  });
}

panels.forEach((p, i) => {
  const left = colLeft[i % 3];
  const stripTop = rowTop[Math.floor(i / 3)];
  const top = stripTop + stripH;

  const xs = p.t.concat(p.f).map(d => d[0]);
  const [xMin, xMax] = d3.extent(xs);
  const xPad = (xMax - xMin) * 0.05;
  const x = d3.scaleLinear().domain([xMin - xPad, xMax + xPad]).range([left, left + panelW]);
  const y = d3.scaleLinear().domain(yDomain).range([top + plotH, top]);

  const g = svg.append("g");
  g.append("rect").attr("x", left).attr("y", top).attr("width", panelW).attr("height", plotH).attr("fill", "#fff");

  const clipId = "clip" + i;
  svg.append("clipPath").attr("id", clipId).append("rect")
    .attr("x", left).attr("y", top).attr("width", panelW).attr("height", plotH);
  const inner = g.append("g").attr("clip-path", `url(#${clipId})`);

  // minor grid
  minorBreaks(p.breaks, x.domain()).forEach(v => {
    inner.append("line").attr("x1", x(v)).attr("x2", x(v)).attr("y1", top).attr("y2", top + plotH)
      .attr("stroke", GRID).attr("stroke-width", 0.8);
  });
  minorBreaks(yBreaks, yDomain).forEach(v => {
    inner.append("line").attr("x1", left).attr("x2", left + panelW).attr("y1", y(v)).attr("y2", y(v))
      .attr("stroke", GRID).attr("stroke-width", 0.8);
  });
  // major grid
  p.breaks.forEach(v => {
    inner.append("line").attr("x1", x(v)).attr("x2", x(v)).attr("y1", top).attr("y2", top + plotH)
      .attr("stroke", GRID).attr("stroke-width", 1.5);
  });
  yBreaks.forEach(v => {
    inner.append("line").attr("x1", left).attr("x2", left + panelW).attr("y1", y(v)).attr("y2", y(v))
      .attr("stroke", GRID).attr("stroke-width", 1.5);
  });

  // points
  if (p.falseOnTop) {
    drawPoints(inner, p.t, TEAL, x, y);
    drawPoints(inner, p.f, SALMON, x, y);
  } else {
    drawPoints(inner, p.f, SALMON, x, y);
    drawPoints(inner, p.t, TEAL, x, y);
  }

  // panel border
  g.append("rect").attr("x", left).attr("y", top).attr("width", panelW).attr("height", plotH)
    .attr("fill", "none").attr("stroke", BORDER).attr("stroke-width", 1.1);

  // strip
  g.append("rect").attr("x", left).attr("y", stripTop).attr("width", panelW).attr("height", stripH)
    .attr("fill", "#D9D9D9").attr("stroke", BORDER).attr("stroke-width", 1.1);
  g.append("text").attr("x", left + panelW / 2).attr("y", stripTop + stripH / 2)
    .attr("text-anchor", "middle").attr("dominant-baseline", "central")
    .attr("font-family", FONT).attr("font-size", 13.4).attr("fill", "#1A1A1A").text(p.name);

  // axes
  const xAxis = d3.axisBottom(x).tickValues(p.breaks).tickFormat(p.fmt).tickSize(4.5).tickPadding(6);
  const gx = g.append("g").attr("transform", `translate(0,${top + plotH})`).call(xAxis);
  const yAxis = d3.axisLeft(y).tickValues(yBreaks).tickFormat(d3.format(".1f")).tickSize(4.5).tickPadding(5);
  const gy = g.append("g").attr("transform", `translate(${left},0)`).call(yAxis);
  [gx, gy].forEach(a => {
    a.select(".domain").remove();
    a.selectAll(".tick line").attr("stroke", BORDER).attr("stroke-width", 1.1);
    a.selectAll(".tick text").attr("fill", AXIS_TXT).attr("font-family", FONT).attr("font-size", 13.4);
  });
});

// y-axis title
svg.append("text").attr("transform", "translate(21,421) rotate(-90)")
  .attr("text-anchor", "middle").attr("dominant-baseline", "central")
  .attr("font-family", FONT).attr("font-size", 16.5).attr("fill", "#000").text("SCR");

// ---------- legend ----------
const lg = svg.append("g").attr("font-family", FONT);
lg.append("text").attr("x", 1227).attr("y", 338).attr("font-size", 16.7).attr("fill", "#000").text("factor(SEX)");
sexLevels.forEach((lv, k) => {
  const cy = 364 + k * 26;
  if (k === 0) lg.append("circle").attr("cx", 1242).attr("cy", cy).attr("r", 2.7).attr("fill", "#000");
  else lg.append("path").attr("d", triPath).attr("transform", `translate(1242,${cy})`).attr("fill", "#000");
  lg.append("text").attr("x", 1263).attr("y", cy).attr("dominant-baseline", "central")
    .attr("font-size", 13.4).attr("fill", "#000").text(lv);
});
lg.append("text").attr("x", 1227).attr("y", 452).attr("font-size", 16.7).attr("fill", "#000").text("(!high_Sch)");
schLevels.forEach((lv, k) => {
  const cy = 475.5 + k * 26.5;
  lg.append("circle").attr("cx", 1242).attr("cy", cy).attr("r", 2.7).attr("fill", k === 0 ? SALMON : TEAL);
  lg.append("text").attr("x", 1263).attr("y", cy).attr("dominant-baseline", "central")
    .attr("font-size", 13.4).attr("fill", "#000").text(lv);
});

// ---------- notes ----------
const NOTE_FONT = "Lato, 'Open Sans', sans-serif";
const notes = svg.append("g").attr("font-family", NOTE_FONT);
const l1 = notes.append("text").attr("x", 531).attr("y", 601).attr("fill", "#000").attr("font-size", 26);
l1.append("tspan").text(notesBlack[0]);
l1.append("tspan").attr("baseline-shift", "super").attr("font-size", "0.62em").text(notesBlack[1]);
l1.append("tspan").text(notesBlack[2]);
const l2 = notes.append("text").attr("x", 531).attr("y", 639).attr("fill", "#000").attr("font-size", 26).text(noteY);
const l3 = notes.append("text").attr("x", 531).attr("y", 677).attr("fill", "#FF0000").attr("font-size", 26).text(noteRed);
const l4 = notes.append("text").attr("x", 531).attr("y", 715).attr("fill", "#00B0F0").attr("font-size", 26).text(noteBlue);

// scale the note size so that the red line spans its measured width
const fs = 26 * 732 / l3.node().getComputedTextLength();
[l1, l2, l3, l4].forEach(t => t.attr("font-size", fs));

const q1 = notes.append("text").attr("x", 845).attr("y", 775).attr("fill", "#FF0000").attr("font-size", 30).text(question[0]);
const q2 = notes.append("text").attr("x", 845).attr("y", 816).attr("fill", "#FF0000").attr("font-size", 30).text(question[1]);
const qs = 30 * 468 / q1.node().getComputedTextLength();
[q1, q2].forEach(t => t.attr("font-size", qs));
</script>
</body>
</html>
